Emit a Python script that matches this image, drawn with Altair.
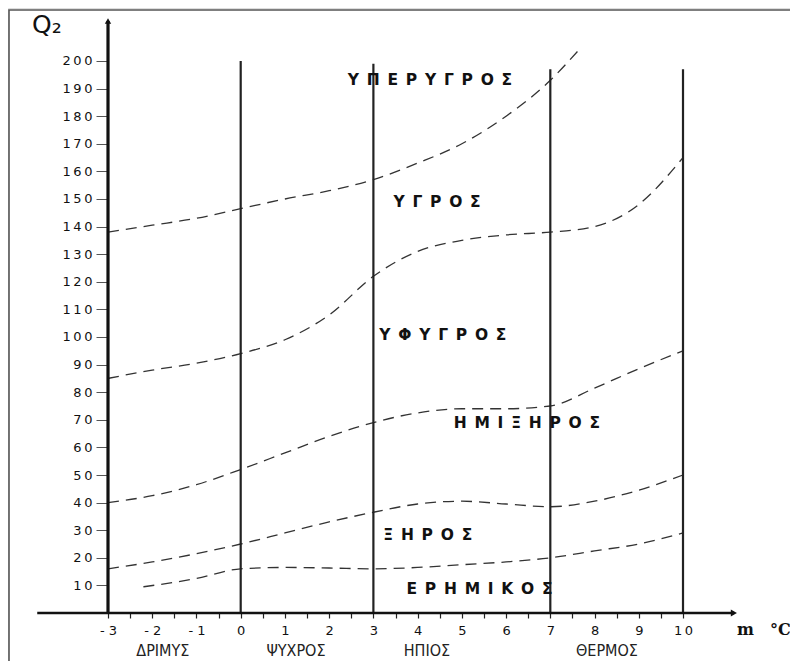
import altair as alt
import pandas as pd

# ---- data ----
c1_x = [-3, -2, -1, 0, 1, 2, 3, 4, 5, 6, 7, 7.7]
c1_y = [138, 140.5, 143, 146.5, 150, 153, 157, 163, 170, 180, 193, 205]
c2_x = [-3, -2, -1, 0, 1, 2, 3, 4, 5, 6, 7, 8, 9, 10]
c2_y = [85, 88, 90.5, 94, 99, 108, 122, 131, 135, 137, 138, 140, 148, 165]
c3_x = [-3, -2, -1, 0, 1, 2, 3, 4, 5, 6, 7, 8, 9, 10]
c3_y = [40, 42.5, 46.5, 52, 58, 64, 69, 72.5, 74, 74, 75, 81.5, 88.5, 95]
c4_x = [-3, -2, -1, 0, 1, 2, 3, 4, 5, 6, 7, 8, 9, 10]
c4_y = [16, 18.5, 21.5, 25, 29, 33, 36.5, 39.5, 40.5, 39.5, 38.5, 40.5, 44.5, 50]
c5_x = [-2.2, -1, 0, 1, 2, 3, 4, 5, 6, 7, 8, 9, 10]
c5_y = [9.5, 12.5, 16, 16.5, 16.3, 16, 16.5, 17.5, 18.5, 20, 22.5, 25, 29]

bound_x = [0, 3, 7, 10]
bound_top = [200, 199, 197, 197]

yaxis_x = -3
yaxis_top = 214.5
xaxis_start = -4.6
xaxis_end = 11.15

y_ticks = list(range(10, 201, 10))
x_ticks = [v / 2 for v in range(-6, 21)]

zone_names = ["ΥΠΕΡΥΓΡΟΣ", "ΥΓΡΟΣ", "ΥΦΥΓΡΟΣ", "ΗΜΙΞΗΡΟΣ", "ΞΗΡΟΣ", "ΕΡΗΜΙΚΟΣ"]
zone_x = [4.28, 4.44, 4.57, 6.47, 4.23, 5.4]
zone_y = [193, 149, 100.7, 68.8, 28.3, 8.8]

temp_names = ["ΔΡΙΜΥΣ", "ΨΥΧΡΟΣ", "ΗΠΙΟΣ", "ΘΕΡΜΟΣ"]
temp_x = [-1.76, 1.25, 4.21, 8.28]
temp_y = [-13.6, -13.6, -13.6, -13.6]

# ---- tables ----
curves = pd.concat([
    pd.DataFrame({"x": xs, "y": ys, "c": i})
    for i, (xs, ys) in enumerate([(c1_x, c1_y), (c2_x, c2_y), (c3_x, c3_y), (c4_x, c4_y), (c5_x, c5_y)])
])
bounds = pd.DataFrame({"x": bound_x, "y": [0] * len(bound_x), "y2": bound_top})
yaxis = pd.DataFrame({"x": [yaxis_x], "y": [0], "y2": [yaxis_top]})
xaxis = pd.DataFrame({"x": [xaxis_start], "x2": [xaxis_end], "y": [0]})
arrow_r = pd.DataFrame({"x": [xaxis_end], "y": [0]})
arrow_u = pd.DataFrame({"x": [yaxis_x], "y": [yaxis_top]})
sp = "\u2002"
zones = pd.DataFrame({"x": zone_x, "y": zone_y, "t": [sp.join(list(n)) for n in zone_names]})
temps = pd.DataFrame({"x": temp_x, "y": temp_y, "t": temp_names})
qlab = pd.DataFrame({"x": [-4.38], "y": [213], "t": ["Q₂"]})
mlab = pd.DataFrame({"x": [11.22], "y": [-6.2], "t": ["m\u2003°C"]})

W, H = 782, 653
xs = alt.Scale(domain=[-5.261, 12.419], nice=False, zero=False)
ys = alt.Scale(domain=[-17.39, 219.2], nice=False, zero=False)

x_axis = alt.Axis(
    title=None, orient="bottom", offset=-48, domain=False, grid=False,
    values=x_ticks, tickSize=5, tickColor="#222", tickWidth=1.2,
    labelPadding=6, labelFontSize=13, labelFont="DejaVu Sans", labelColor="#111",
    labelFlush=False, labelOverlap=False,
    labelExpr="datum.value % 1 != 0 ? '' : (datum.value < 0 ? '- ' + abs(datum.value) : join(split(toString(datum.value), ''), '\u2009'))",
)
y_axis = alt.Axis(
    title=None, orient="left", offset=-100, domain=False, grid=False,
    values=y_ticks, tickSize=12, tickColor="#555", tickWidth=1,
    labelPadding=4, labelFontSize=13, labelFont="DejaVu Sans", labelColor="#111",
    labelFlush=False, labelOverlap=False,
    labelExpr="join(split(datum.label, ''), '\u2009')",
)

def X(f="x"):
    return alt.X(f"{f}:Q", scale=xs, axis=x_axis)

def Y(f="y"):
    return alt.Y(f"{f}:Q", scale=ys, axis=y_axis)

lines = alt.Chart(curves).mark_line(
    color="#333", strokeWidth=1.3, strokeDash=[11, 7], interpolate="monotone"
).encode(x=X(), y=Y(), detail="c:N")

brules = alt.Chart(bounds).mark_rule(color="#222", strokeWidth=2.2).encode(
    x=X(), y=Y(), y2="y2:Q")
yrule = alt.Chart(yaxis).mark_rule(color="#111", strokeWidth=3.2).encode(
    x=X(), y=Y(), y2="y2:Q")
xrule = alt.Chart(xaxis).mark_rule(color="#111", strokeWidth=2.6).encode(
    x=X(), x2="x2:Q", y=Y())
ar = alt.Chart(arrow_r).mark_point(shape="triangle-right", filled=True, color="#111", size=50, opacity=1).encode(x=X(), y=Y())
au = alt.Chart(arrow_u).mark_point(shape="triangle-up", filled=True, color="#111", size=40, opacity=1).encode(x=X(), y=Y())

ztext = alt.Chart(zones).mark_text(
    font="DejaVu Sans", fontWeight="bold", fontSize=15.5, color="#111", align="center", baseline="middle"
).encode(x=X(), y=Y(), text="t:N")
ttext = alt.Chart(temps).mark_text(
    font="Liberation Sans Narrow, DejaVu Sans Condensed, sans-serif", fontSize=16, color="#222",
    align="center", baseline="middle"
).encode(x=X(), y=Y(), text="t:N")
qtext = alt.Chart(qlab).mark_text(
    font="DejaVu Sans", fontSize=25, color="#111", align="center", baseline="middle"
).encode(x=X(), y=Y(), text="t:N")
mtext = alt.Chart(mlab).mark_text(
    font="DejaVu Serif", fontWeight="bold", fontSize=16, color="#111", align="left", baseline="middle"
).encode(x=X(), y=Y(), text="t:N")

border = alt.Chart(arrow_r).mark_rect(fill=None, stroke="#555", strokeWidth=1.6).encode(
    x=alt.value(1), x2=alt.value(820), y=alt.value(2), y2=alt.value(700))

chart = alt.layer(border, lines, brules, yrule, xrule, ar, au, ztext, ttext, qtext, mtext).properties(
    width=W, height=H, autosize=alt.AutoSizeParams(type="none"), padding=0
).configure_view(strokeWidth=0).configure(background="white")

chart.save("out.html", embed_options={"renderer": "svg", "actions": False})
